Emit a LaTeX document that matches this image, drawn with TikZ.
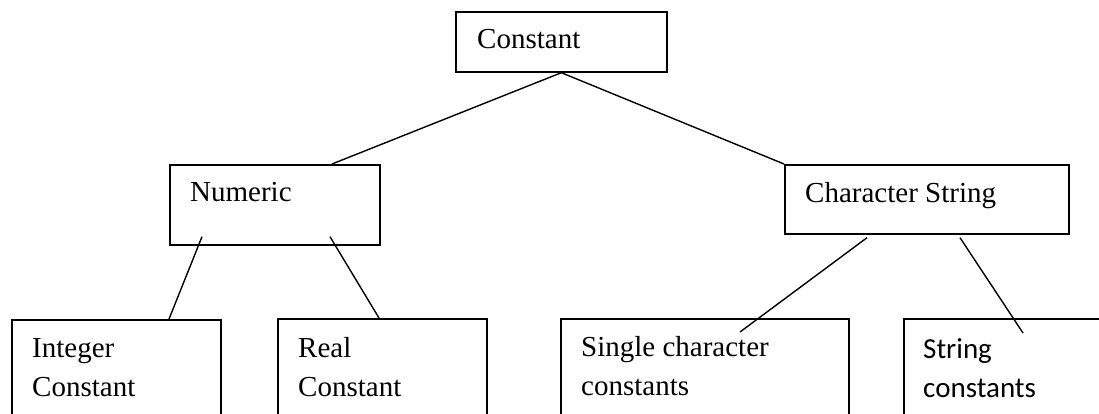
\documentclass[tikz,border=0pt]{standalone}
\usepackage{fontspec}
\setmainfont{Liberation Serif}
\newfontfamily\calfont{Carlito}
\usetikzlibrary{calc}
\begin{document}
\begin{tikzpicture}[x=1pt, y=-1pt,
  box/.style={draw, line width=1.7pt, rectangle, inner sep=0pt, anchor=north west},
  lbl/.style={inner sep=0pt, anchor=base west, align=left,
              font=\fontsize{29}{39}\selectfont},
  link/.style={line width=1.4pt}]
  \useasboundingbox (0,0) rectangle (1099,414);
  \clip (0,0) rectangle (1099,414);

  % boxes
  \node[box, minimum width=211pt, minimum height=60pt] (c) at (455,11) {};
  \node[box, minimum width=210pt, minimum height=80pt] (num) at (169,164) {};
  \node[box, minimum width=284pt, minimum height=69pt] (cs) at (784,164) {};
  \node[box, minimum width=209pt, minimum height=130pt] (int) at (11,319) {};
  \node[box, minimum width=209pt, minimum height=130pt] (real) at (277,318) {};
  \node[box, minimum width=288pt, minimum height=130pt] (single) at (560,318) {};
  \node[box, minimum width=260pt, minimum height=130pt] (str) at (903,318) {};

  % labels (two-line labels are anchored on their last baseline)
  \node[lbl] (ct) at ($(c.north west)+(22,38)$) {Constant};
  \node[lbl] (numt) at ($(num.north west)+(21,37)$) {Numeric};
  \node[lbl] (cst) at ($(cs.north west)+(21,38)$) {Character String};
  \node[lbl] (intt) at ($(int.north west)+(21,77)$) {Integer\\Constant};
  \node[lbl] (realt) at ($(real.north west)+(21,78)$) {Real\\Constant};
  \node[lbl] (singlet) at ($(single.north west)+(21,77)$) {Single character\\constants};
  \node[lbl, font=\calfont\fontsize{29}{39}\selectfont] (strt) at ($(str.north west)+(20,79)$) {String\\constants};

  % connectors
  \draw[link] (c.south) -- ($(num.north west)+(163,0)$);
  \draw[link] (c.south) -- (cs.north west);
  \draw[link] ($(num.south west)+(33,-9)$) -- ($(int.north west)+(158,0)$);
  \draw[link] ($(num.south west)+(161,-9)$) -- ($(real.north west)+(102,0)$);
  \draw[link] ($(cs.south west)+(83,3)$) -- ($(single.north west)+(180,14)$);
  \draw[link] ($(cs.south west)+(176,3)$) -- ($(str.north west)+(120,15)$);
\end{tikzpicture}
\end{document}
